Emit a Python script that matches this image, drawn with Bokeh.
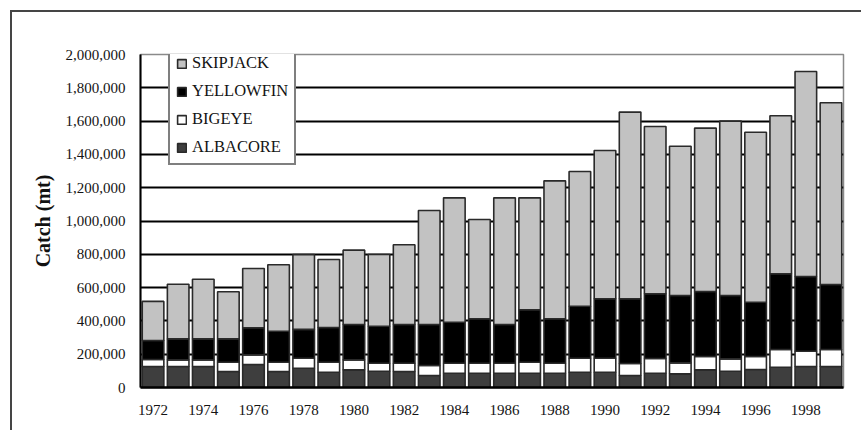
from bokeh.plotting import figure
from bokeh.models import (ColumnDataSource, Range1d, FixedTicker, NumeralTickFormatter,
                          Legend, LegendItem)
from bokeh.embed import file_html
from bokeh.resources import INLINE

# Annual tuna catch by species (metric tonnes)
years = list(range(1972, 2000))
albacore = [126000, 126000, 126000, 96000, 138000, 96000, 116000, 92000, 106000, 98000,
            96000, 72000, 86000, 86000, 86000, 86000, 86000, 92000, 92000, 72000,
            86000, 82000, 106000, 98000, 108000, 122000, 126000, 126000]
bigeye = [42000, 40000, 40000, 56000, 58000, 56000, 60000, 60000, 60000, 48000,
          50000, 60000, 60000, 60000, 60000, 66000, 60000, 84000, 84000, 72000,
          88000, 66000, 80000, 74000, 78000, 106000, 92000, 102000]
yellowfin = [114000, 126000, 126000, 140000, 163000, 186000, 173000, 208000, 212000, 222000,
             232000, 246000, 246000, 267000, 232000, 315000, 267000, 312000, 357000, 389000,
             389000, 405000, 391000, 381000, 326000, 455000, 449000, 391000]
skipjack = [235000, 328000, 358000, 283000, 356000, 399000, 449000, 409000, 447000, 431000,
            479000, 685000, 747000, 596000, 761000, 672000, 828000, 809000, 890000, 1121000,
            1005000, 896000, 981000, 1047000, 1021000, 949000, 1231000, 1091000]

species = ["albacore", "bigeye", "yellowfin", "skipjack"]
names = ["ALBACORE", "BIGEYE", "YELLOWFIN", "SKIPJACK"]
colors = ["#3e3e3e", "#ffffff", "#000000", "#c2c2c2"]
x_ticks = list(range(1972, 1999, 2))
y_ticks = list(range(0, 2000001, 200000))

source = ColumnDataSource(dict(year=years, albacore=albacore, bigeye=bigeye,
                               yellowfin=yellowfin, skipjack=skipjack))

SERIF = "Liberation Serif"

p = figure(width=851, height=420, output_backend="svg", toolbar_location=None,
           x_range=Range1d(1971.5, 1999.5), y_range=Range1d(0, 2000000),
           min_border_left=128, min_border_top=42, min_border_right=20,
           min_border_bottom=45)
p.styles = {"margin-left": "10px", "margin-top": "10px",
            "border-left": "2px solid #454545", "border-top": "2px solid #454545"}

p.outline_line_color = "#8a8a8a"
p.outline_line_width = 1.5
p.background_fill_color = "white"
p.border_fill_color = "white"

renderers = p.vbar_stack(species, x="year", width=0.86, source=source,
                         fill_color=colors, line_color="#2a2a2a", line_width=1.6)

# axes
p.xaxis.ticker = FixedTicker(ticks=x_ticks)
p.yaxis.ticker = FixedTicker(ticks=y_ticks)
p.yaxis.formatter = NumeralTickFormatter(format="0,0")
for ax in (p.xaxis, p.yaxis):
    ax.major_tick_out = 0
    ax.major_tick_in = 0
    ax.minor_tick_out = 0
    ax.minor_tick_in = 0
    ax.major_label_text_font = SERIF
    ax.major_label_text_font_size = "15px"
    ax.major_label_text_color = "#141414"
    ax.axis_line_color = "#000000"
p.xaxis.axis_line_width = 2.5
p.yaxis.axis_line_width = 2
p.xaxis.major_label_standoff = 17
p.yaxis.major_label_standoff = 15

p.yaxis.axis_label = "Catch (mt)"
p.yaxis.axis_label_text_font = SERIF
p.yaxis.axis_label_text_font_style = "bold"
p.yaxis.axis_label_text_font_size = "20px"
p.yaxis.axis_label_text_color = "#111111"
p.yaxis.axis_label_standoff = 9

p.xgrid.grid_line_color = None
p.ygrid.ticker = FixedTicker(ticks=y_ticks[1:-1])
p.ygrid.grid_line_color = "#000000"
p.ygrid.grid_line_width = 2

# legend, top entry first
items = [LegendItem(label=names[i], renderers=[renderers[i]]) for i in (3, 2, 1, 0)]
legend = Legend(items=items, location=(28, 222), orientation="vertical",
                label_text_font=SERIF, label_text_font_size="16.5px",
                label_text_color="#141414",
                glyph_width=11, glyph_height=11, label_standoff=5,
                label_height=19, spacing=8, padding=6, margin=0,
                border_line_color="#000000", border_line_width=2,
                background_fill_color="white", background_fill_alpha=1)
p.add_layout(legend)

open("out.html", "w").write(file_html(p, INLINE))
